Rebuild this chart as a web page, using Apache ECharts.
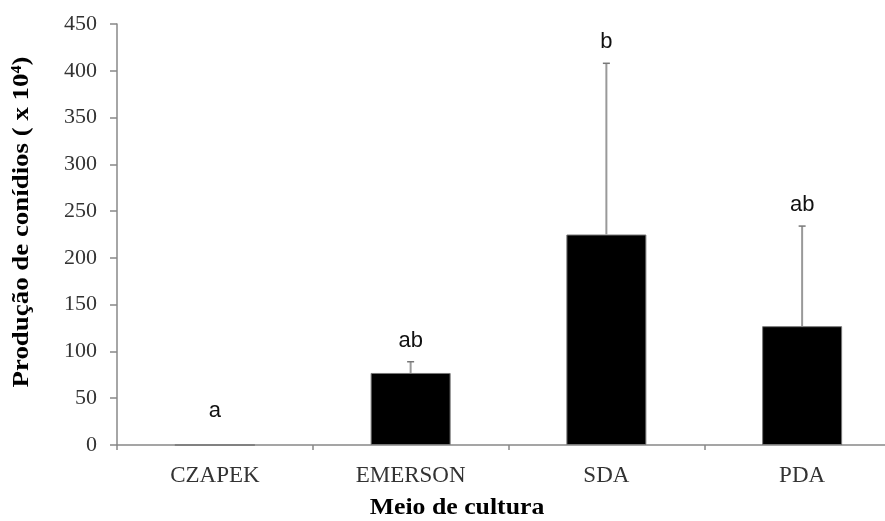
<!DOCTYPE html>
<html>
<head>
<meta charset="utf-8">
<script src="https://cdn.jsdelivr.net/npm/echarts@6/dist/echarts.min.js"></script>
<style>html,body{margin:0;padding:0;background:#fff}#c{width:885px;height:521px}</style>
</head>
<body>
<div id="c"></div>
<script>
const categories = ['CZAPEK', 'EMERSON', 'SDA', 'PDA'];
const means = [0, 77, 225, 127];
const errors = [0, 12, 183, 107];
const letters = ['a', 'ab', 'b', 'ab'];
const yMin = 0, yMax = 450, yStep = 50;

const chart = echarts.init(document.getElementById('c'), null, {renderer: 'canvas'});
const serif = '"Liberation Serif", "Times New Roman", serif';
const sans = '"Liberation Sans", Arial, sans-serif';

chart.setOption({
  animation: false,
  backgroundColor: '#fff',
  grid: {left: 117, top: 24, width: 783, height: 421, containLabel: false, outerBoundsMode: 'none'},
  xAxis: {
    type: 'category',
    data: categories,
    boundaryGap: true,
    axisLine: {show: true, lineStyle: {color: '#888', width: 1.5}},
    axisTick: {show: true, alignWithLabel: false, length: 5, lineStyle: {color: '#888', width: 1.5}},
    axisLabel: {color: '#333', fontFamily: serif, fontSize: 23, margin: 19},
    splitLine: {show: false}
  },
  yAxis: {
    type: 'value',
    min: yMin, max: yMax, interval: yStep,
    axisLine: {show: true, lineStyle: {color: '#888', width: 1.5}},
    axisTick: {show: true, length: 7, lineStyle: {color: '#888', width: 1.5}},
    axisLabel: {color: '#333', fontFamily: serif, fontSize: 22, margin: 20},
    splitLine: {show: false}
  },
  graphic: [
    {type: 'text', x: 22, y: 222, rotation: Math.PI / 2, scaleX: 1.12,
      style: {text: 'Produção de conídios ( x 10⁴)', fontFamily: serif, fontWeight: 'bold', fontSize: 24, fill: '#000', align: 'center', verticalAlign: 'middle'}},
    {type: 'text', x: 457, y: 508, scaleX: 1.12,
      style: {text: 'Meio de cultura', fontFamily: serif, fontWeight: 'bold', fontSize: 23, fill: '#000', align: 'center', verticalAlign: 'middle'}}
  ],
  series: [
    {
      type: 'bar',
      data: means,
      barWidth: 80,
      itemStyle: {color: '#000', borderColor: '#777', borderWidth: 1}
    },
    {
      type: 'custom',
      data: categories.map((c, i) => [i, means[i], errors[i]]),
      renderItem: function (params, api) {
        const i = api.value(0);
        const m = api.value(1);
        const e = api.value(2);
        const base = api.coord([i, m]);
        const top = api.coord([i, m + e]);
        const zero = api.coord([i, 0]);
        const children = [];
        if (e > 0) {
          children.push({type: 'line', shape: {x1: top[0], y1: base[1], x2: top[0], y2: top[1]}, style: {stroke: '#999', lineWidth: 2}});
          children.push({type: 'line', shape: {x1: top[0] - 3.5, y1: top[1], x2: top[0] + 3.5, y2: top[1]}, style: {stroke: '#777', lineWidth: 1.5}});
        }
        const ty = Math.min(top[1] - 21, zero[1] - 34);
        children.push({type: 'text', style: {text: letters[i], x: top[0], y: ty, align: 'center', verticalAlign: 'middle', fontFamily: sans, fontSize: 22, fill: '#111'}});
        return {type: 'group', children: children};
      },
      z: 10
    }
  ]
});
</script>
</body>
</html>
